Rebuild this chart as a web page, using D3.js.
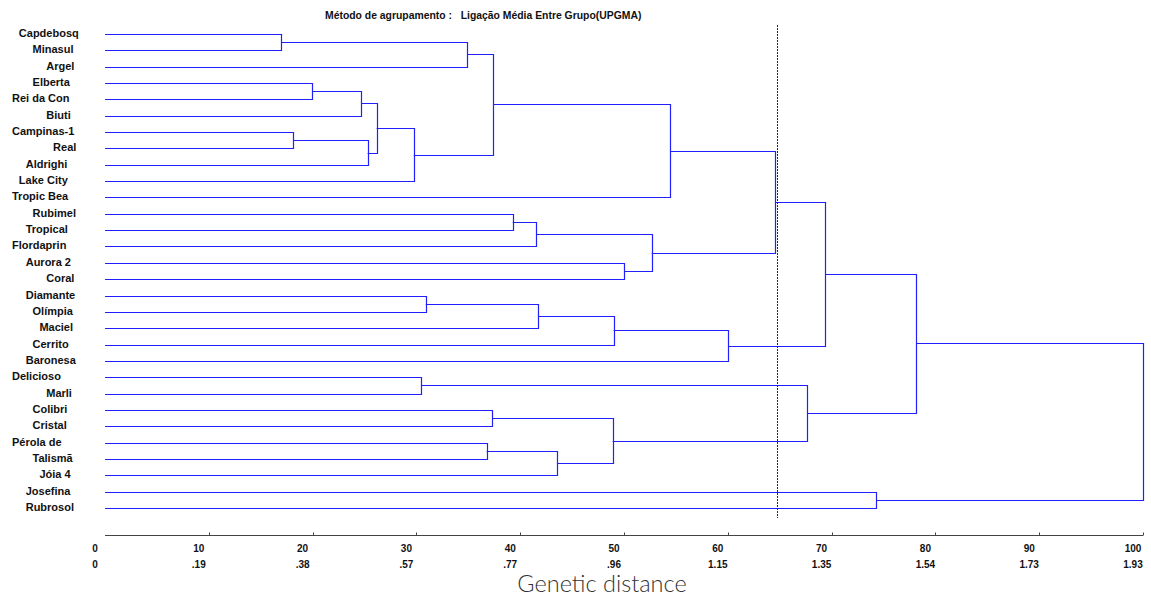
<!DOCTYPE html>
<html>
<head>
<meta charset="utf-8">
<script src="https://cdn.jsdelivr.net/npm/d3@7"></script>
<style>
  body { margin: 0; background: #fff; }
  svg { display: block; }
</style>
</head>
<body>
<svg width="1151" height="599"></svg>
<script>
var svg = d3.select("svg");

// cultivars, top to bottom (names padded like the original 10-char field)
var cultivars = ["Capdebosq", "Minasul", "Argel", "Elberta", "Rei da Con", "Biuti",
  "Campinas-1", "Real", "Aldrighi", "Lake City", "Tropic Bea", "Rubimel", "Tropical",
  "Flordaprin", "Aurora 2", "Coral", "Diamante", "Olímpia", "Maciel", "Cerrito",
  "Baronesa", "Delicioso ", "Marli", "Colibri", "Cristal", "Pérola de ", "Talismã",
  "Jóia 4", "Josefina", "Rubrosol"];

// merges: [child a, child b, linkage distance]; ids 0-29 are leaves, 30+ are merges in order
var merges = [
  [0, 1, 16.98],   // 30
  [30, 2, 34.9],   // 31
  [3, 4, 19.97],   // 32
  [32, 5, 24.7],   // 33
  [6, 7, 18.15],   // 34
  [34, 8, 25.3],   // 35
  [33, 35, 26.17], // 36
  [36, 9, 29.74],  // 37
  [31, 37, 37.38], // 38
  [38, 10, 54.43], // 39
  [11, 12, 39.28], // 40
  [40, 13, 41.55], // 41
  [14, 15, 50.03], // 42
  [41, 42, 52.67], // 43
  [39, 43, 64.55], // 44
  [16, 17, 30.9],  // 45
  [45, 18, 41.71], // 46
  [46, 19, 49.0],  // 47
  [47, 20, 60.02], // 48
  [44, 48, 69.39], // 49
  [21, 22, 30.44], // 50
  [23, 24, 37.31], // 51
  [25, 26, 36.77], // 52
  [52, 27, 43.57], // 53
  [51, 53, 48.91], // 54
  [50, 54, 67.66], // 55
  [49, 55, 78.15], // 56
  [28, 29, 74.28], // 57
  [56, 57, 100]    // 58
];

var cutLevel = 64.77;

var ticks = [0, 10, 20, 30, 40, 50, 60, 70, 80, 90, 100];
var tickLabels2 = ["0", ".19", ".38", ".57", ".77", ".96", "1.15", "1.35", "1.54", "1.73", "1.93"];

var title = "Método de agrupamento :   Ligação Média Entre Grupo(UPGMA)";
var xTitle = "Genetic distance";

var blue = "#2020ff";

var x = d3.scaleLinear().domain([0, 100]).range([105, 1143]);
var y = d3.scalePoint().domain(d3.range(cultivars.length)).range([34, 508]);

// node positions
var nodes = cultivars.map(function(name, i) {
  return { h: 0, y: y(i) };
});
merges.forEach(function(m) {
  nodes.push({ h: m[2], y: (nodes[m[0]].y + nodes[m[1]].y) / 2, a: m[0], b: m[1] });
});

var tree = svg.append("g").attr("fill", "none").attr("stroke", blue).attr("stroke-width", 1.2);

tree.selectAll("path")
  .data(nodes.filter(function(d) { return d.a !== undefined; }))
  .enter().append("path")
    .attr("d", function(d) {
      var A = nodes[d.a], B = nodes[d.b], px = Math.round(x(d.h)) + 0.5;
      return "M" + x(A.h) + "," + (Math.round(A.y) + 0.5) +
        "H" + px + "V" + (Math.round(B.y) + 0.5) + "H" + x(B.h);
    });

// cut line
svg.append("line")
  .attr("x1", Math.round(x(cutLevel)) + 0.5).attr("x2", Math.round(x(cutLevel)) + 0.5)
  .attr("y1", 25).attr("y2", 518)
  .attr("stroke", "#1010ff").attr("stroke-width", 1)
  .attr("stroke-dasharray", "2,1");

// leaf labels, right-aligned in a 10-char field like the original
svg.append("g")
  .attr("font-family", "'Liberation Sans', Arial, sans-serif")
  .attr("font-size", 11).attr("font-weight", "bold").attr("fill", "#111")
  .selectAll("text")
  .data(cultivars)
  .enter().append("text")
    .attr("x", function(d) { return 12 + (10 - d.length) * 6.85; })
    .attr("y", function(d, i) { return y(i) + 3; })
    .style("white-space", "pre")
    .text(function(d) { return d.trim(); });

// axis
var axisY = 535.5;
var axis = svg.append("g").attr("stroke", "#444");
axis.append("line")
  .attr("x1", x(0)).attr("x2", x(100))
  .attr("y1", axisY).attr("y2", axisY)
  .attr("stroke-width", 1.2);
axis.selectAll("line.tick")
  .data(ticks.slice(1))
  .enter().append("line")
    .attr("class", "tick")
    .attr("x1", function(d) { return Math.round(x(d)) + 0.5; })
    .attr("x2", function(d) { return Math.round(x(d)) + 0.5; })
    .attr("y1", axisY - 3).attr("y2", axisY);

var tl = svg.append("g")
  .attr("font-family", "'Liberation Sans Narrow', 'Liberation Sans', Arial, sans-serif")
  .attr("font-size", 10).attr("font-weight", "bold").attr("fill", "#111")
  .attr("text-anchor", "middle");
tl.selectAll("text.r1")
  .data(ticks)
  .enter().append("text")
    .attr("x", function(d) { return x(d) - 10; })
    .attr("y", 552)
    .text(function(d) { return d; });
tl.selectAll("text.r2")
  .data(tickLabels2)
  .enter().append("text")
    .attr("x", function(d, i) { return x(ticks[i]) - 10; })
    .attr("y", 568)
    .text(function(d) { return d; });

svg.append("text")
  .attr("x", 325).attr("y", 19)
  .attr("font-family", "'Liberation Sans', Arial, sans-serif")
  .attr("font-size", 10.4).attr("font-weight", "bold").attr("fill", "#111")
  .style("white-space", "pre")
  .text(title);

svg.append("text")
  .attr("x", 602).attr("y", 592)
  .attr("text-anchor", "middle")
  .attr("font-family", "Lato, 'Noto Sans', sans-serif")
  .attr("font-size", 23.5).attr("font-weight", 300).attr("fill", "#333")
  .text(xTitle);
</script>
</body>
</html>
